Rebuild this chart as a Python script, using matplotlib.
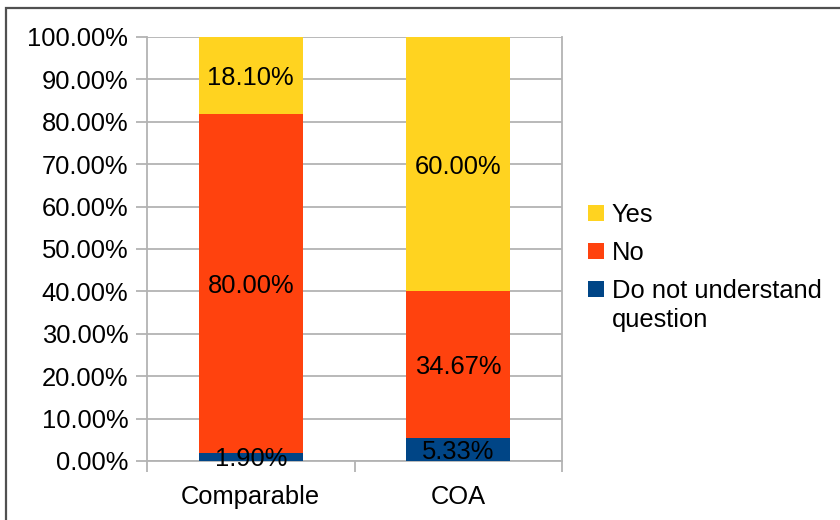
import matplotlib
matplotlib.use("Agg")
import matplotlib.pyplot as plt
from matplotlib.patches import Rectangle
import numpy as np

plt.rcParams['font.family'] = ['Liberation Sans', 'DejaVu Sans']

categories = ["Comparable", "COA"]
dont_understand = [1.90, 5.33]
no_vals = [80.00, 34.67]
yes_vals = [18.10, 60.00]
y_ticks = [0, 10, 20, 30, 40, 50, 60, 70, 80, 90, 100]
legend_labels = ["Yes", "No", "Do not understand\nquestion"]
colors = {"Yes": "#FFD320", "No": "#FF420E", "Do not understand\nquestion": "#004586"}

W, H = 840, 520
FS = 18.4
fig = plt.figure(figsize=(W / 100, H / 100), dpi=100)
ax = fig.add_axes([147 / W, 1 - 461 / H, (562 - 147) / W, (461 - 37) / H])

# outer frame of the chart
fig.patches.append(Rectangle((6 / W, -0.05), 1.0, 1 - 8 / H + 0.05,
                             transform=fig.transFigure, fill=False,
                             edgecolor="#505050", linewidth=1.6, zorder=0))

x = np.arange(len(categories))
bw = 0.5
grid_c = "#b3b3b3"

stack = [("Do not understand\nquestion", dont_understand),
         ("No", no_vals),
         ("Yes", yes_vals)]
bottom = np.zeros(len(categories))
for name, vals in stack:
    vals = np.array(vals)
    ax.bar(x, vals, bw, bottom=bottom, color=colors[name],
           linewidth=0, zorder=3)
    for xi, b, v in zip(x, bottom, vals):
        ax.text(xi, b + v / 2, f"{v:.2f}%", ha="center", va="center_baseline",
                fontsize=FS, color="black", zorder=5)
    bottom = bottom + vals

ax.set_xlim(-0.5, 1.5)
ax.set_ylim(0, 100)
ax.set_yticks(y_ticks)
ax.set_yticklabels([f"{t:.2f}%" for t in y_ticks], fontsize=FS)
ax.yaxis.grid(True, color=grid_c, linewidth=1.3, zorder=0)
ax.tick_params(axis="y", length=8, color=grid_c, width=1.3, pad=5.5)

ax.set_xticks(x)
ax.set_xticklabels(categories, fontsize=FS)
ax.tick_params(axis="x", which="major", length=0, pad=17)
ax.set_xticks([-0.5, 0.5, 1.5], minor=True)
ax.tick_params(axis="x", which="minor", length=8, color=grid_c, width=1.3)

for side in ["left", "right", "bottom"]:
    ax.spines[side].set_color(grid_c)
    ax.spines[side].set_linewidth(1.3)
ax.spines["top"].set_visible(False)

# legend: swatch and text per entry, first text line aligned to the swatch
sw_left, sw_size, txt_left = 588, 16, 612
sw_centers = [213, 251, 289]
for label, yc in zip(legend_labels, sw_centers):
    fig.patches.append(Rectangle((sw_left / W, 1 - (yc + sw_size / 2) / H),
                                 sw_size / W, sw_size / H,
                                 transform=fig.transFigure,
                                 facecolor=colors[label], edgecolor="none"))
    lines = label.split("\n")
    for i, line in enumerate(lines):
        base = yc + 9.5 + i * 29
        fig.text(txt_left / W, 1 - base / H, line, fontsize=FS,
                 ha="left", va="baseline")

fig.savefig("out.png", dpi=100)
